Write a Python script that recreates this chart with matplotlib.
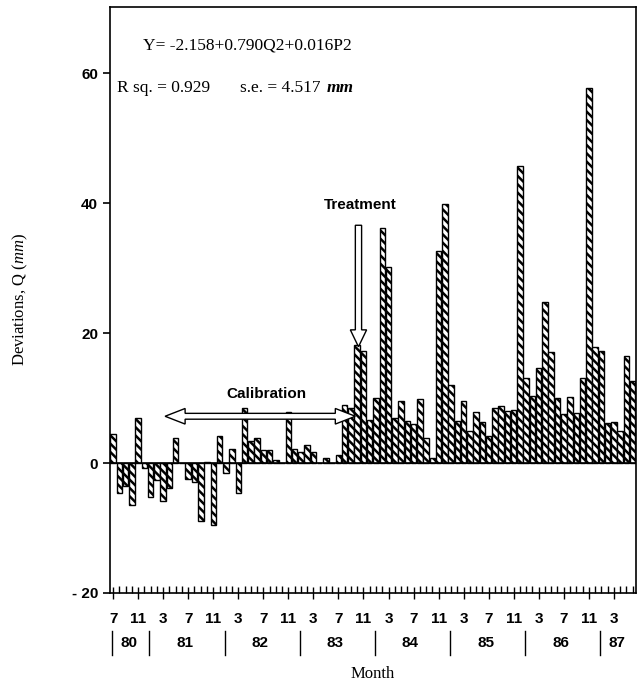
import matplotlib
matplotlib.use("Agg")
import matplotlib.pyplot as plt
from matplotlib.patches import Polygon
import numpy as np

# ---- data -------------------------------------------------------------
start_year = 1980
start_month = 7
deviations = [
    4.4, -4.6, -3.6, -6.5, 7.0, -0.7,                      # Jul-Dec 1980
    -5.2, -2.6, -5.8, -3.9, 3.9, 0.0, -2.4, -2.9, -8.9, 0.2, -9.6, 4.2,   # 1981
    -1.5, 2.1, -4.6, 8.5, 3.4, 3.9, 2.0, 2.0, 0.5, 0.0, 7.9, 2.2,        # 1982
    1.7, 2.8, 1.7, 0.0, 0.8, 0.0, 1.3, 9.0, 8.5, 18.2, 17.3, 6.6,        # 1983
    10.0, 36.2, 30.2, 7.0, 9.5, 6.5, 6.0, 9.8, 3.9, 0.8, 32.6, 39.8,     # 1984
    12.0, 6.4, 9.5, 5.0, 7.9, 6.3, 4.2, 8.5, 8.8, 8.0, 8.1, 45.7,        # 1985
    13.1, 10.3, 14.7, 24.8, 17.1, 10.0, 7.5, 10.2, 7.7, 13.1, 57.7, 17.9,  # 1986
    17.2, 6.2, 6.3, 5.0, 16.5, 12.6,                       # Jan-Jun 1987
]
yticks = [-20, 0, 20, 40, 60]
equation = "Y= -2.158+0.790Q2+0.016P2"
rsq_text = "R sq. = 0.929"
se_text = "s.e. = 4.517"
se_unit = "mm"
treat_idx = 39          # month the treatment arrow points at
calib_range = (8.3, 38.7)

n = len(deviations)
idx = np.arange(n)
month_num = [(start_month - 1 + i) % 12 + 1 for i in idx]
year_num = [start_year + (start_month - 1 + i) // 12 for i in idx]

# ---- figure -----------------------------------------------------------
plt.rcParams['hatch.linewidth'] = 1.8
plt.rcParams['mathtext.fontset'] = 'custom'
plt.rcParams['mathtext.rm'] = 'Liberation Serif'
plt.rcParams['mathtext.it'] = 'Liberation Serif:italic'

fig = plt.figure(figsize=(6.37, 6.90), dpi=100)
ax = fig.add_axes([0.1727, 0.1406, 0.8253, 0.8493])

ax.bar(idx, deviations, width=0.88, color="white", edgecolor="black",
       hatch="\\\\\\\\", linewidth=1.0, zorder=2)
ax.axhline(0, color="black", lw=1.2, zorder=3)

ax.set_xlim(-0.5, n - 0.5)
ax.set_ylim(-20, 70.2)

# y axis
ax.set_yticks(yticks)
ax.set_yticklabels([("- %d" % abs(v)) if v < 0 else str(v) for v in yticks],
                   fontsize=11, fontweight="bold", family="Liberation Sans")
ax.tick_params(axis="y", direction="out", length=5, width=1.2)

# x axis
major = [i for i in idx if i % 4 == 0]
ax.set_xticks(major)
ax.set_xticklabels([str(month_num[i]) for i in major], fontsize=11,
                   fontweight="bold", family="Liberation Sans")
ax.set_xticks(idx, minor=True)
ax.tick_params(axis="x", which="minor", direction="in", length=5, width=1)
ax.tick_params(axis="x", which="major", direction="inout", length=9, width=1, pad=9)

for s in ax.spines.values():
    s.set_linewidth(1.2)

# year labels and dividers below the month labels
trans = ax.get_xaxis_transform()
years = sorted(set(year_num))
bounds = []
for y in years:
    members = [i for i in idx if year_num[i] == y]
    lo, hi = members[0] - 0.5, members[-1] + 0.5
    bounds += [lo, hi]
    ax.text((lo + hi) / 2, -0.085, str(y)[2:], transform=trans, ha="center",
            va="center", fontsize=11, fontweight="bold", family="Liberation Sans")
for b in sorted(set(bounds)):
    ax.plot([b + 0.3, b + 0.3], [-0.105, -0.065], transform=trans, color="black",
            lw=1.0, clip_on=False)

# labels
ax.set_ylabel("Deviations, Q ($\\mathit{mm}$)", family="Liberation Serif",
              fontsize=12, labelpad=30)
ax.set_xlabel("Month", family="Liberation Serif", fontsize=12, labelpad=29)

# equation text
ax.text(4.8, 64.2, equation, family="Liberation Serif", fontsize=12.5, va="center")
ax.text(0.6, 57.7, rsq_text, family="Liberation Serif", fontsize=12.5, va="center")
se = ax.text(20.3, 57.7, se_text, family="Liberation Serif", fontsize=12.5, va="center")
ax.annotate(se_unit, xy=(1, 0.5), xycoords=se, xytext=(4, 0),
            textcoords="offset points", va="center", family="Liberation Serif",
            fontsize=12.5, fontweight="bold", fontstyle="italic")

# Treatment arrow (hollow, pointing down)
ax.text(39.5, 39.7, "Treatment", ha="center", va="center", fontsize=11,
        fontweight="bold", family="Liberation Sans")
tx = treat_idx + 0.2
top, neck, tip = 36.6, 20.5, 17.9
sw, hw = 0.5, 1.3
ax.add_patch(Polygon([(tx - sw, top), (tx + sw, top), (tx + sw, neck),
                      (tx + hw, neck), (tx, tip), (tx - hw, neck),
                      (tx - sw, neck)], closed=True, facecolor="white",
                     edgecolor="black", lw=1.0, zorder=5))

# Calibration double arrow (hollow)
ax.text(24.5, 10.6, "Calibration", ha="center", va="center", fontsize=11,
        fontweight="bold", family="Liberation Sans")
x0, x1 = calib_range
yc, sh, hh, hl = 7.2, 0.45, 1.2, 3.2
ax.add_patch(Polygon([(x0, yc), (x0 + hl, yc + hh), (x0 + hl, yc + sh),
                      (x1 - hl, yc + sh), (x1 - hl, yc + hh), (x1, yc),
                      (x1 - hl, yc - hh), (x1 - hl, yc - sh),
                      (x0 + hl, yc - sh), (x0 + hl, yc - hh)], closed=True,
                     facecolor="white", edgecolor="black", lw=1.0, zorder=5))

fig.savefig("out.png", dpi=100)
